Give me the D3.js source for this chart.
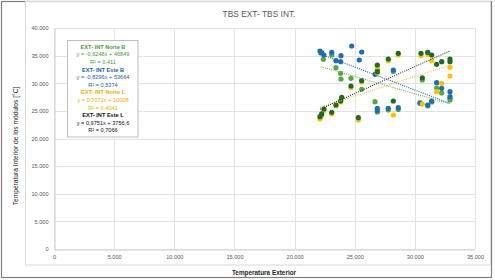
<!DOCTYPE html>
<html><head><meta charset="utf-8">
<script src="https://cdn.jsdelivr.net/npm/d3@7"></script>
<style>body{margin:0;background:#fff}svg{display:block;font-family:"Liberation Sans",Arial,sans-serif}</style>
</head><body><svg id="c" width="495" height="280"></svg>
<script>
const xTicks = [0,5000,10000,15000,20000,25000,30000,35000];
const yTicks = [0,5000,10000,15000,20000,25000,30000,35000,40000];
const seriesNames = ["EXT- INT Norte B","EXT- INT Este B","EXT- INT  Norte L","EXT- INT Este L"];
const seriesColors = ["#55a843","#1f6db4","#ffc000","#1d6b2b"];
const labelColors = ["#4f9a3c","#1f5f9c","#e8b000","#111111"];
const trendColors = ["#6fb05c","#2a5fa0","#f2c13a","#333333"];
const slopes = [-0.6248,-0.8296,0.7072,0.9751];
const intercepts = [46849,53664,10008,3756.6];
const eqLabels = ["y = -0,6248x + 46849","y = -0,8296x + 53664","y = 0,7072x + 10008","y = 0,9751x + 3756,6"];
const r2Labels = ["R² = 0,411","R² = 0,5374","R² = 0,4041","R² = 0,7066"];

const norteBX = [22170,22390,23090,23440,23830,23860,24690,25580,26690,26880,26880,27790,28620,28210,30430,31070,30620,31810,32230,32920,32920,31400];
const norteBY = [35480,34330,35110,32810,31800,30770,30900,28910,26660,24800,32490,25160,25250,32130,26480,25880,30590,29140,28240,27330,26970,26610];
const esteBX = [22110,22250,22440,23090,23440,23830,23860,24750,25380,25580,26690,28210,26880,26880,27790,28620,30430,31070,31400,31810,32230,32920,32920];
const esteBY = [35840,35530,35110,35600,34080,33900,34990,36740,34210,35660,31620,32400,25470,25040,25470,25580,26370,26060,26790,30100,29090,28470,27570];
const norteLX = [22110,22250,22440,23090,23440,23830,23920,24690,25300,25580,26880,26880,27790,28620,28210,30510,31070,31400,31810,32230,32920,32920,30620];
const norteLY = [23530,24080,25070,24440,25880,26610,27150,29230,23350,30230,32890,31860,34080,35110,24250,34990,35240,34080,28470,29990,32890,31310,26240];
const esteLX = [22110,22250,22440,23090,23440,23830,23920,24690,25300,25580,26880,26880,27790,28620,28210,30510,31070,31400,31810,32230,32920,32920,30620];
const esteLY = [23950,24440,25340,24740,26060,26790,27460,29500,23770,30460,33300,32090,34390,35420,26790,35420,35600,35110,33430,33900,34390,33900,31000];

const allX = [norteBX, esteBX, norteLX, esteLX];
const allY = [norteBY, esteBY, norteLY, esteLY];

const svg = d3.select("#c");
const fmt = d3.formatLocale({decimal:",",thousands:".",grouping:[3],currency:["",""]}).format(",.0f");

// frames
svg.append("rect").attr("x",1.5).attr("y",1.5).attr("width",490).attr("height",276)
  .attr("fill","#fff").attr("stroke","#7f7f7f").attr("stroke-width",1.2);
svg.append("rect").attr("x",25.5).attr("y",1.5).attr("width",465).attr("height",263.5)
  .attr("fill","none").attr("stroke","#d9d9d9").attr("stroke-width",1);

const x = d3.scaleLinear().domain([0,35000]).range([54,475]);
const y = d3.scaleLinear().domain([0,40000]).range([249,28]);

// grid
svg.append("g").selectAll("line").data(yTicks).join("line")
  .attr("x1",x(0)).attr("x2",x(35000)).attr("y1",d=>Math.round(y(d))+0.5).attr("y2",d=>Math.round(y(d))+0.5)
  .attr("stroke","#e3e3e3").attr("stroke-width",1);
svg.append("g").selectAll("line").data(xTicks).join("line")
  .attr("y1",y(0)).attr("y2",y(40000)).attr("x1",d=>Math.round(x(d))+0.5).attr("x2",d=>Math.round(x(d))+0.5)
  .attr("stroke","#e3e3e3").attr("stroke-width",1);

// axes
const ax = svg.append("g").attr("transform",`translate(0,${Math.round(y(0))+0.5})`)
  .call(d3.axisBottom(x).tickValues(xTicks).tickFormat(fmt).tickSize(0).tickPadding(6));
const ay = svg.append("g").attr("transform",`translate(${Math.round(x(0))+0.5},0)`)
  .call(d3.axisLeft(y).tickValues(yTicks).tickFormat(fmt).tickSize(0).tickPadding(6));
[ax,ay].forEach(g=>{
  g.select(".domain").attr("stroke","#d0d0d0");
  g.selectAll("text").attr("fill","#595959").style("font-size","5.6px").style("font-family","Liberation Sans, Arial, sans-serif");
});

// points
allX.forEach((xs,i)=>{
  svg.append("g").selectAll("circle").data(xs.map((v,j)=>[v,allY[i][j]])).join("circle")
    .attr("cx",d=>x(d[0])).attr("cy",d=>y(d[1])).attr("r",2.6)
    .attr("fill",seriesColors[i]);
});

// trendlines
const line = d3.line().x(d=>x(d[0])).y(d=>y(d[1]));
allX.forEach((xs,i)=>{
  const [a,b] = d3.extent(xs);
  svg.append("path").datum([[a,slopes[i]*a+intercepts[i]],[b,slopes[i]*b+intercepts[i]]])
    .attr("d",line).attr("fill","none").attr("stroke",trendColors[i]).attr("stroke-width",1.1)
    .attr("stroke-dasharray","1,1.2");
});

// legend box
svg.append("rect").attr("x",67.5).attr("y",40.5).attr("width",70.5).attr("height",96.5)
  .attr("fill","#fff").attr("stroke","#bfbfbf").attr("stroke-width",1);
const lg = svg.append("g").attr("text-anchor","middle").style("font-size","5.6px");
seriesNames.forEach((n,i)=>{
  const y0 = 48.7 + i*22.8;
  lg.append("text").attr("x",103).attr("y",y0).attr("fill",labelColors[i]).attr("font-weight","bold").text(n);
  lg.append("text").attr("x",103).attr("y",y0+7.6).attr("fill",labelColors[i]).text(eqLabels[i]);
  lg.append("text").attr("x",103).attr("y",y0+15.2).attr("fill",labelColors[i]).text(r2Labels[i]);
});

// titles
svg.append("text").attr("x",259).attr("y",17.3).attr("text-anchor","middle")
  .attr("fill","#595959").style("font-size","8.4px").text("TBS EXT- TBS INT.");
svg.append("text").attr("x",264).attr("y",274.5).attr("text-anchor","middle")
  .attr("fill","#262626").attr("font-weight","bold").style("font-size","6.4px").text("Temperatura Exterior");
svg.append("text").attr("transform","translate(17.5,146) rotate(-90)").attr("text-anchor","middle")
  .attr("fill","#262626").style("font-size","6.6px").text("Temperatura  Interior de los módulos [°C]");
</script></body></html>
